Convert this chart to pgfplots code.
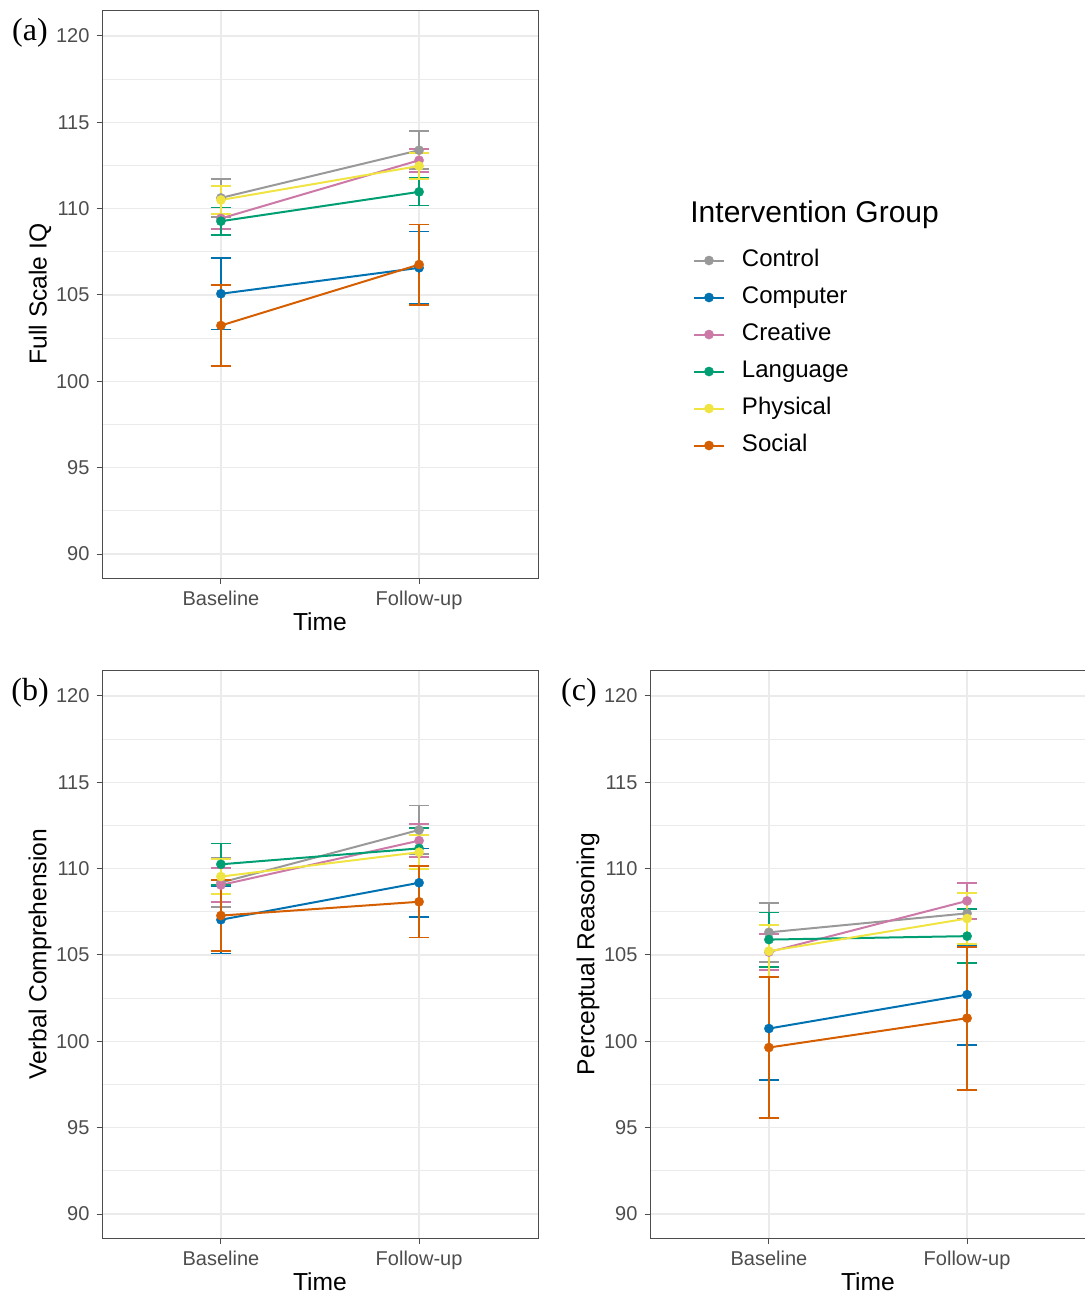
\documentclass[border=0pt]{standalone}
\usepackage{pgfplots}
\pgfplotsset{compat=1.18}
\usepackage{fontspec}
\setmainfont{Liberation Sans}
\newfontfamily\panelfont{Liberation Serif}
\definecolor{cControl}{HTML}{999999}
\definecolor{cComputer}{HTML}{0072B2}
\definecolor{cCreative}{HTML}{CC79A7}
\definecolor{cLanguage}{HTML}{009E73}
\definecolor{cPhysical}{HTML}{F0E442}
\definecolor{cSocial}{HTML}{D55E00}
\definecolor{gridc}{HTML}{EBEBEB}
\definecolor{framec}{HTML}{4D4D4D}
\definecolor{tickc}{HTML}{4D4D4D}
\pgfplotsset{
 panel/.style={
  scale only axis, width=218pt, height=284pt,
  xmin=-0.6, xmax=1.6, ymin=88.61, ymax=121.5,
  xtick={0,1}, xticklabels={Baseline,Follow-up},
  ytick={90,95,...,120}, minor ytick={92.5,97.5,...,117.5},
  grid=both,
  major grid style={color=gridc, line width=0.7pt},
  minor grid style={color=gridc, line width=0.4pt},
  axis line style={color=framec, line width=0.5pt},
  tick align=outside, major tick length=2.75pt, minor tick length=0pt,
  tick style={color=framec, line width=0.5pt},
  xtick pos=bottom, ytick pos=left,
  ticklabel style={font=\fontsize{10}{12}\selectfont, color=tickc},
  /pgf/number format/assume math mode=true,
  xlabel=Time,
  label style={font=\fontsize{12.3}{14}\selectfont, color=black},
  xlabel style={at={(axis description cs:0.5,-0.0775)}, anchor=center},
  ylabel style={at={(axis description cs:-0.1422,0.5)}, anchor=center, rotate=0},
  legend image code/.code={\draw[mark repeat=2,mark phase=2,#1] plot coordinates {(0pt,0pt) (7.5pt,0pt) (15pt,0pt)}; \path (23.5pt,0pt);},
 },
 grp/.style={color=#1, line width=1pt, mark=*, mark size=2.3pt,
  mark options={fill=#1, draw=#1, line width=0.2pt},
  error bars/.cd, y dir=both, y explicit,
  error bar style={color=#1, line width=0.9pt},
  error mark options={rotate=90, mark size=5pt, color=#1, line width=0.9pt}},
}
\begin{document}
\begin{tikzpicture}
\useasboundingbox (0pt,0pt) rectangle (542.5pt,-649pt);
% Panel (a)
\begin{axis}[panel, at={(51pt,-5pt)}, anchor=north west, ylabel={Full Scale IQ},
  legend style={at={(axis description cs:1.3555,0.5801)}, anchor=north west,
    draw=none, fill=none, inner sep=0pt, outer sep=0pt,
    font=\fontsize{12}{14}\selectfont, row sep=6.5pt,
    nodes={inner sep=0pt, text height=9pt, text depth=3pt}},
  legend cell align=left]
\addplot[grp=cControl] coordinates {(0,110.62) +- (0,1.09) (1,113.38) +- (0,1.10)};
\addlegendentry{Control}
\addplot[grp=cComputer] coordinates {(0,105.07) +- (0,2.07) (1,106.57) +- (0,2.10)};
\addlegendentry{Computer}
\addplot[grp=cCreative] coordinates {(0,109.43) +- (0,0.63) (1,112.80) +- (0,0.66)};
\addlegendentry{Creative}
\addplot[grp=cLanguage] coordinates {(0,109.27) +- (0,0.79) (1,110.97) +- (0,0.79)};
\addlegendentry{Language}
\addplot[grp=cPhysical] coordinates {(0,110.50) +- (0,0.81) (1,112.47) +- (0,0.76)};
\addlegendentry{Physical}
\addplot[grp=cSocial] coordinates {(0,103.23) +- (0,2.35) (1,106.76) +- (0,2.32)};
\addlegendentry{Social}
\end{axis}
% Panel (b)
\begin{axis}[panel, at={(51pt,-335pt)}, anchor=north west, ylabel={Verbal Comprehension}]
\addplot[grp=cControl] coordinates {(0,109.19) +- (0,1.41) (1,112.24) +- (0,1.41)};
\addplot[grp=cComputer] coordinates {(0,107.04) +- (0,1.95) (1,109.18) +- (0,1.98)};
\addplot[grp=cCreative] coordinates {(0,109.05) +- (0,0.97) (1,111.62) +- (0,0.95)};
\addplot[grp=cLanguage] coordinates {(0,110.25) +- (0,1.20) (1,111.17) +- (0,1.20)};
\addplot[grp=cPhysical] coordinates {(0,109.54) +- (0,1.00) (1,110.95) +- (0,0.99)};
\addplot[grp=cSocial] coordinates {(0,107.28) +- (0,2.05) (1,108.08) +- (0,2.07)};
\end{axis}
% Panel (c)
\begin{axis}[panel, at={(325pt,-335pt)}, anchor=north west, ylabel={Perceptual Reasoning}]
\addplot[grp=cControl] coordinates {(0,106.31) +- (0,1.70) (1,107.41) +- (0,1.75)};
\addplot[grp=cComputer] coordinates {(0,100.74) +- (0,2.98) (1,102.70) +- (0,2.90)};
\addplot[grp=cCreative] coordinates {(0,105.17) +- (0,1.06) (1,108.13) +- (0,1.03)};
\addplot[grp=cLanguage] coordinates {(0,105.89) +- (0,1.57) (1,106.09) +- (0,1.56)};
\addplot[grp=cPhysical] coordinates {(0,105.22) +- (0,1.50) (1,107.11) +- (0,1.46)};
\addplot[grp=cSocial] coordinates {(0,99.64) +- (0,4.08) (1,101.34) +- (0,4.14)};
\end{axis}
% Legend title and panel tags
\node[anchor=base west, inner sep=0pt, font=\fontsize{15}{17}\selectfont] at (345pt,-111pt) {Intervention Group};
\node[anchor=center, inner sep=0pt, font=\panelfont\fontsize{16}{18}\selectfont] at (15pt,-16.5pt) {(a)};
\node[anchor=center, inner sep=0pt, font=\panelfont\fontsize{16}{18}\selectfont] at (15pt,-346.5pt) {(b)};
\node[anchor=center, inner sep=0pt, font=\panelfont\fontsize{16}{18}\selectfont] at (289.5pt,-346.5pt) {(c)};
\end{tikzpicture}
\end{document}
